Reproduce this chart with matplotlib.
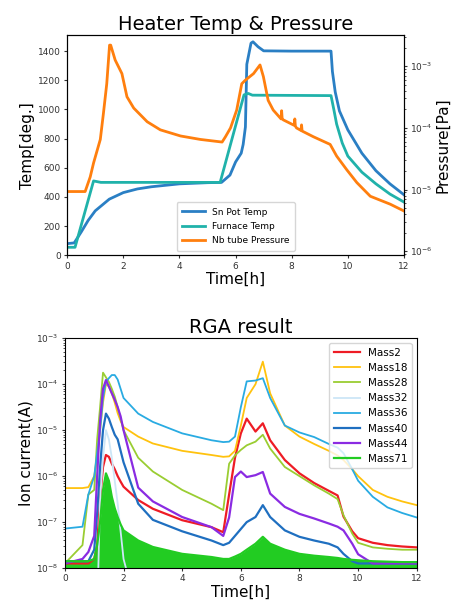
import numpy as np
import matplotlib
matplotlib.use("Agg")
import matplotlib.pyplot as plt

# ---- Heater temps and tube pressure (top panel) ----
t_sn = [0, 0.25, 0.5, 0.75, 1.0, 1.5, 2.0, 2.5, 3.0, 4.0, 5.0, 5.5, 5.8, 6.0, 6.2,
        6.27, 6.35, 6.4, 6.55, 6.62, 6.8, 7.0, 8.0, 9.0, 9.4, 9.45, 9.55, 9.7,
        10.0, 10.5, 11.0, 11.5, 12.0]
sn_pot = [80, 85, 160, 240, 305, 385, 430, 455, 470, 490, 498, 500, 550, 640, 700,
          760, 880, 1310, 1455, 1464, 1430, 1402, 1400, 1400, 1400, 1260, 1120, 990,
          860, 700, 580, 490, 415]

t_fur = [0, 0.28, 0.94, 1.2, 2.0, 5.45, 6.3, 6.45, 6.6, 9.4, 9.5, 9.6, 9.8,
         10.0, 10.5, 11.0, 11.5, 12.0]
furnace = [55, 55, 510, 500, 500, 500, 1100, 1110, 1098, 1095, 1000, 900, 770,
           680, 570, 490, 420, 365]

t_nb = [0, 0.64, 0.82, 0.94, 1.18, 1.29, 1.41, 1.51, 1.55, 1.71, 1.95, 2.13, 2.37,
        2.85, 3.32, 4.04, 4.75, 5.52, 5.64, 5.82, 6.04, 6.22, 6.34, 6.64, 6.87, 6.99,
        7.16, 7.34, 7.62, 7.64, 7.66, 7.70, 8.09, 8.11, 8.13, 8.17, 8.33, 8.35, 8.37,
        8.77, 9.37, 9.60, 9.96, 10.32, 10.80, 11.51, 12.0]
nb_pressure = [9.3e-6, 9.3e-6, 1.6e-5, 2.7e-5, 6.5e-5, 1.7e-4, 5.2e-4, 2.2e-3, 2.2e-3,
               1.26e-3, 7.6e-4, 3.2e-4, 2.1e-4, 1.26e-4, 9.3e-5, 7.4e-5, 6.5e-5, 5.9e-5,
               7.2e-5, 1.0e-4, 1.95e-4, 5.2e-4, 5.9e-4, 7.6e-4, 1.05e-3, 6.8e-4, 2.8e-4,
               1.95e-4, 1.4e-4, 1.9e-4, 1.4e-4, 1.35e-4, 1.1e-4, 1.4e-4, 1.07e-4, 1.0e-4,
               9.1e-5, 1.12e-4, 8.9e-5, 7.2e-5, 5.4e-5, 3.5e-5, 2.1e-5, 1.3e-5, 7.8e-6,
               5.8e-6, 4.5e-6]

# ---- RGA ion currents (bottom panel) ----
t_rga = [0, 0.6, 0.8, 1.0, 1.1, 1.2, 1.3, 1.4, 1.5, 1.6, 1.7, 1.8, 1.9, 2.0, 2.5, 3,
         4, 5, 5.4, 5.6, 5.8, 6.0, 6.2, 6.5, 6.75, 7.0, 7.5, 8, 8.5, 9, 9.3, 9.5, 9.8,
         10, 10.5, 11, 11.5, 12]
mass2 = [1.26e-8, 1.26e-8, 1.26e-8, 1.58e-8, 3.16e-8, 3.16e-7, 1.58e-6, 2.88e-6, 2.63e-6,
         1.86e-6, 1.41e-6, 1.0e-6, 7.59e-7, 5.89e-7, 3.02e-7, 1.95e-7, 1.10e-7, 7.76e-8,
         6.03e-8, 3.98e-7, 2.51e-6, 8.51e-6, 1.78e-5, 9.33e-6, 1.41e-5, 6.03e-6, 2.24e-6,
         1.15e-6, 7.08e-7, 4.79e-7, 3.80e-7, 1.32e-7, 6.31e-8, 4.47e-8, 3.55e-8, 3.16e-8,
         2.95e-8, 2.82e-8]
mass18 = [5.5e-7, 5.5e-7, 5.75e-7, 1.0e-6, 2.51e-6, 1.0e-5, 3.98e-5, 1.0e-4, 8.91e-5,
          6.31e-5, 3.98e-5, 2.34e-5, 1.58e-5, 1.17e-5, 7.24e-6, 5.13e-6, 3.55e-6, 2.88e-6,
          2.63e-6, 2.69e-6, 3.55e-6, 1.26e-5, 5.01e-5, 1.0e-4, 3.09e-4, 6.31e-5, 1.26e-5,
          7.24e-6, 5.01e-6, 3.55e-6, 2.82e-6, 2.24e-6, 1.41e-6, 1.0e-6, 5.01e-7, 3.55e-7,
          2.82e-7, 2.34e-7]
mass28 = [1.26e-8, 3.16e-8, 3.98e-7, 5.01e-7, 6.31e-6, 3.16e-5, 1.78e-4, 1.41e-4, 1.12e-4,
          7.94e-5, 5.37e-5, 3.16e-5, 1.78e-5, 1.0e-5, 2.51e-6, 1.26e-6, 5.01e-7, 2.51e-7,
          1.82e-7, 1.86e-6, 2.82e-6, 3.72e-6, 4.68e-6, 5.62e-6, 7.94e-6, 3.98e-6, 1.58e-6,
          1.0e-6, 6.31e-7, 4.17e-7, 3.16e-7, 1.41e-7, 5.62e-8, 3.55e-8, 2.82e-8, 2.63e-8,
          2.51e-8, 2.51e-8]
mass32 = [1e-9, 1e-9, 1e-9, 1e-9, 1e-9, 3.16e-7, 2.51e-6, 1.0e-5, 6.31e-6, 2.51e-6,
          7.94e-7, 2.51e-7, 6.31e-8, 1.58e-8, 1e-9, 1e-9, 1e-9, 1e-9, 1e-9, 1e-9, 1e-9,
          1e-9, 1e-9, 1e-9, 1e-9, 1e-9, 1e-9, 1e-9, 1e-9, 1e-9, 1e-9, 1e-9, 1e-9, 1e-9,
          1e-9, 1e-9, 1e-9, 1e-9]
mass36 = [7.24e-8, 7.94e-8, 3.98e-7, 1.0e-6, 3.16e-6, 1.0e-5, 5.01e-5, 1.12e-4, 1.35e-4,
          1.58e-4, 1.58e-4, 1.26e-4, 7.94e-5, 5.01e-5, 2.29e-5, 1.51e-5, 8.51e-6, 6.03e-6,
          5.50e-6, 5.62e-6, 7.24e-6, 3.16e-5, 1.15e-4, 1.20e-4, 1.35e-4, 5.01e-5, 1.26e-5,
          8.91e-6, 7.08e-6, 5.01e-6, 4.17e-6, 3.16e-6, 1.41e-6, 7.94e-7, 3.55e-7, 2.09e-7,
          1.58e-7, 1.26e-7]
mass40 = [1.41e-8, 1.41e-8, 1.41e-8, 2.51e-8, 1.58e-7, 1.58e-6, 1.0e-5, 2.29e-5, 1.78e-5,
          1.17e-5, 7.94e-6, 6.31e-6, 3.55e-6, 2.0e-6, 2.51e-7, 1.12e-7, 6.31e-8, 3.98e-8,
          3.16e-8, 3.55e-8, 5.01e-8, 7.08e-8, 1.0e-7, 1.29e-7, 2.34e-7, 1.29e-7, 6.61e-8,
          4.79e-8, 3.98e-8, 3.39e-8, 2.82e-8, 2.04e-8, 1.41e-8, 1.26e-8, 1.26e-8, 1.26e-8,
          1.26e-8, 1.26e-8]
mass44 = [1.26e-8, 1.58e-8, 2.24e-8, 5.01e-8, 1.0e-6, 1.58e-5, 7.94e-5, 1.23e-4, 8.91e-5,
          6.31e-5, 4.57e-5, 3.16e-5, 2.0e-5, 1.0e-5, 5.62e-7, 2.82e-7, 1.29e-7, 7.76e-8,
          5.01e-8, 1.26e-7, 9.55e-7, 1.26e-6, 9.55e-7, 1.05e-6, 1.23e-6, 4.17e-7, 2.14e-7,
          1.51e-7, 1.20e-7, 9.33e-8, 7.94e-8, 6.61e-8, 3.39e-8, 2.0e-8, 1.26e-8, 1.26e-8,
          1.26e-8, 1.26e-8]
mass71 = [1.41e-8, 1.41e-8, 1.41e-8, 1.58e-8, 3.16e-8, 1.0e-7, 5.01e-7, 1.15e-6, 7.94e-7,
          3.55e-7, 2.0e-7, 1.29e-7, 8.91e-8, 6.61e-8, 3.98e-8, 2.88e-8, 2.04e-8, 1.74e-8,
          1.58e-8, 1.58e-8, 1.78e-8, 2.04e-8, 2.51e-8, 3.39e-8, 4.79e-8, 3.39e-8, 2.51e-8,
          2.04e-8, 1.86e-8, 1.74e-8, 1.66e-8, 1.58e-8, 1.51e-8, 1.48e-8, 1.41e-8, 1.38e-8,
          1.35e-8, 1.35e-8]

rga_series = [("Mass2", mass2, "#ee1c25"), ("Mass18", mass18, "#ffc20e"),
              ("Mass28", mass28, "#9acd32"), ("Mass32", mass32, "#cde6f7"),
              ("Mass36", mass36, "#29abe2"), ("Mass40", mass40, "#1f6fc0"),
              ("Mass44", mass44, "#8a2be2"), ("Mass71", mass71, "#22cc22")]

fig = plt.figure(figsize=(4.57, 6.05), dpi=100)
tick_fs = 6.5

# Top panel
ax = fig.add_axes([0.147, 0.578, 0.737, 0.364])
l1, = ax.plot(t_sn, sn_pot, color="#2a7fc4", lw=2, label="Sn Pot Temp")
l2, = ax.plot(t_fur, furnace, color="#20b2aa", lw=2, label="Furnace Temp")
ax.set_xlim(0, 12)
ax.set_ylim(0, 1510)
ax.set_yticks(range(0, 1401, 200))
ax.set_xticks(range(0, 13, 2))
ax.set_xlabel("Time[h]", fontsize=11, labelpad=1)
ax.set_ylabel("Temp[deg.]", fontsize=11, labelpad=2)
ax.set_title("Heater Temp & Pressure", fontsize=14, pad=4)
ax.tick_params(labelsize=tick_fs, length=2.5, pad=2, colors="#333333")

ax2 = ax.twinx()
l3, = ax2.plot(t_nb, nb_pressure, color="#ff7f0e", lw=2, label="Nb tube Pressure")
ax2.set_yscale("log")
ax2.set_ylim(8.6e-7, 3.2e-3)
ax2.set_ylabel("Pressure[Pa]", fontsize=11, labelpad=2)
ax2.tick_params(which="both", labelsize=tick_fs, pad=2, colors="#333333")
ax2.tick_params(which="major", length=2.5)
ax2.tick_params(which="minor", length=1.5)
ax2.legend(handles=[l1, l2, l3], loc="lower center", fontsize=6.5,
           handlelength=2.5, borderpad=0.6, labelspacing=0.6)

# Bottom panel
bx = fig.add_axes([0.142, 0.061, 0.770, 0.380])
bx.fill_between(t_rga, 1e-8, mass71, color="#22cc22", lw=0)
for name, vals, col in rga_series:
    lw = 1.6 if name in ("Mass2", "Mass40", "Mass44", "Mass71") else 1.3
    bx.plot(t_rga, vals, color=col, lw=lw, label=name)
bx.set_yscale("log")
bx.set_xlim(0, 12)
bx.set_ylim(1e-8, 1e-3)
bx.set_xticks(range(0, 13, 2))
bx.set_xlabel("Time[h]", fontsize=11, labelpad=1)
bx.set_ylabel("Ion current(A)", fontsize=11, labelpad=2)
bx.set_title("RGA result", fontsize=14, pad=4)
bx.tick_params(which="both", labelsize=tick_fs, pad=2, colors="#333333")
bx.tick_params(which="major", length=2.5)
bx.tick_params(which="minor", length=1.5)
bx.legend(loc="upper right", fontsize=7.5, handlelength=2.5, borderpad=0.4,
          labelspacing=0.5)

fig.savefig("out.png", dpi=100)
